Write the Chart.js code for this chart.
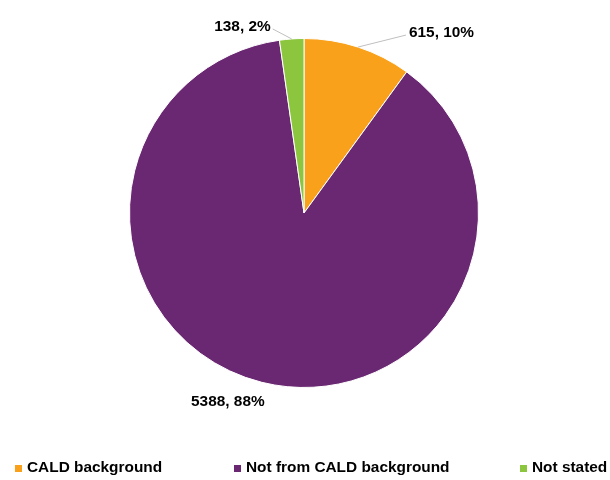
<!DOCTYPE html>
<html>
<head>
<meta charset="utf-8">
<script src="https://cdn.jsdelivr.net/npm/chart.js@4.4.0/dist/chart.umd.min.js"></script>
<style>
  html, body { margin: 0; padding: 0; background: #fff; }
  #wrap { width: 610px; height: 480px; }
</style>
</head>
<body>
<div id="wrap"><canvas id="pieChart" width="610" height="480"></canvas></div>
<script>
// dados
const categorias = ['CALD background', 'Not from CALD background', 'Not stated'];
const valores = [615, 5388, 138];
const percentuais = ['10%', '88%', '2%'];
const cores = ['#F9A11B', '#6B2872', '#8CC63F'];

const FONTE = 'bold 15.4px "Liberation Sans", Arial, sans-serif';

// rótulos com linha guia (posição relativa à borda da fatia)
const rotulosPlugin = {
  id: 'rotulos',
  afterDatasetsDraw(chart, args, opts) {
    const ctx = chart.ctx;
    const arcs = chart.getDatasetMeta(0).data;
    ctx.save();
    ctx.font = FONTE;
    ctx.fillStyle = '#000';
    ctx.textBaseline = 'middle';
    arcs.forEach((arc, i) => {
      const a = (arc.startAngle + arc.endAngle) / 2;
      const ex = arc.x + Math.cos(a) * arc.outerRadius;
      const ey = arc.y + Math.sin(a) * arc.outerRadius;
      const o = opts.offsets[i];
      const texto = `${valores[i]}, ${percentuais[i]}`;
      const tx = ex + o.dx, ty = ey + o.dy;
      if (o.line) {
        ctx.strokeStyle = '#BFBFBF';
        ctx.lineWidth = 1;
        ctx.beginPath();
        ctx.moveTo(ex, ey);
        ctx.lineTo(tx + (o.align === 'left' ? -3 : 2), ty + 2);
        ctx.stroke();
      }
      ctx.textAlign = o.align;
      ctx.fillText(texto, tx, ty);
    });
    ctx.restore();
  }
};

// legenda desenhada à mão (espaçamento irregular como no original)
const legendaPlugin = {
  id: 'legendaManual',
  afterDraw(chart, args, opts) {
    const ctx = chart.ctx;
    ctx.save();
    ctx.font = FONTE;
    ctx.textBaseline = 'middle';
    ctx.textAlign = 'left';
    categorias.forEach((c, i) => {
      const x = opts.xs[i];
      ctx.fillStyle = cores[i];
      ctx.fillRect(x, opts.y - 3, 7, 7);
      ctx.fillStyle = '#000';
      ctx.fillText(c, x + 12, opts.y);
    });
    ctx.restore();
  }
};

const ctx = document.getElementById('pieChart').getContext('2d');
window.pieChart = new Chart(ctx, {
  type: 'pie',
  data: {
    labels: categorias,
    datasets: [{
      data: valores,
      backgroundColor: cores,
      borderColor: '#ffffff',
      borderWidth: 1
    }]
  },
  options: {
    responsive: false,
    animation: false,
    layout: { padding: { left: 129, right: 131, top: 38, bottom: 92 } },
    plugins: {
      legend: { display: false },
      tooltip: { enabled: false },
      rotulos: {
        offsets: [
          { dx: 51, dy: -14, align: 'left', line: true },
          { dx: -34, dy: 19, align: 'center', line: false },
          { dx: -21, dy: -12, align: 'right', line: true }
        ]
      },
      legendaManual: { xs: [15, 234, 520], y: 468 }
    }
  },
  plugins: [rotulosPlugin, legendaPlugin]
});
</script>
</body>
</html>
